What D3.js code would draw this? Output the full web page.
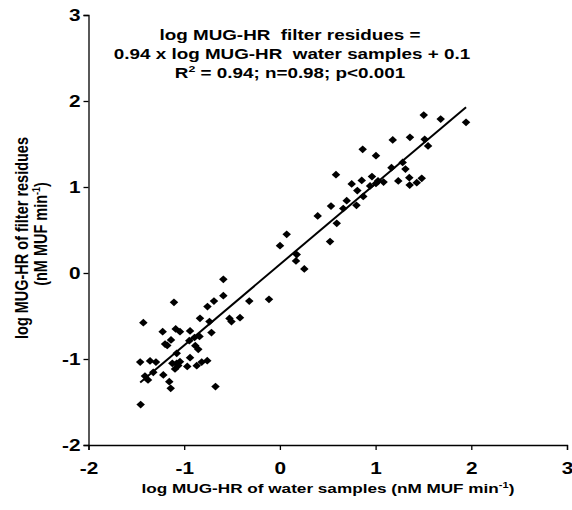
<!DOCTYPE html>
<html>
<head>
<meta charset="utf-8">
<script src="https://cdn.jsdelivr.net/npm/d3@7"></script>
<style>
  body { margin: 0; background: #fff; }
  svg { display: block; }
  text { font-family: Arial, "Liberation Sans", sans-serif; font-weight: bold; fill: #000; }
</style>
</head>
<body>
<div id="chart"></div>
<script>
// log MUG-HR of water samples (x) vs filter residues (y)
const waterLog = [
  -1.455, -1.46, -1.427, -1.41, -1.378, -1.357, -1.323, -1.295, -1.225, -1.218,
  -1.20, -1.177, -1.138, -1.156, -1.141, -1.107, -1.089, -1.044, -1.078, -1.124,
  -1.078, -1.044, -1.062, -1.096, -0.968, -0.939, -0.939, -0.947, -0.892, -0.84,
  -0.884, -0.853, -0.869, -0.817, -0.759, -0.835, -0.736, -0.757, -0.689, -0.715,
  -0.673, -0.591, -0.591, -0.527, -0.506, -0.417, -0.32, -0.114, 0.001, 0.071,
  0.176, 0.168, 0.255, 0.395, 0.524, 0.534, 0.594, 0.586, 0.662, 0.698,
  0.75, 0.809, 0.80, 0.855, 0.871, 0.865, 0.942, 0.962, 1.004, 1.025,
  1.083, 1.004, 1.166, 1.179, 1.237, 1.283, 1.312, 1.352, 1.356, 1.359,
  1.43, 1.482, 1.503, 1.513, 1.548, 1.68, 1.945
];
const filterLog = [
  -1.53, -1.035, -0.578, -1.198, -1.244, -1.023, -1.155, -1.035, -0.683, -1.186,
  -0.826, -0.843, -0.779, -1.264, -1.341, -0.341, -0.651, -0.683, -0.934, -1.05,
  -1.05, -1.031, -1.076, -1.116, -1.087, -0.985, -0.674, -0.787, -0.75, -0.738,
  -0.845, -0.887, -1.078, -1.035, -1.02, -0.527, -0.564, -0.39, -0.326, -0.692,
  -1.32, -0.264, -0.073, -0.529, -0.564, -0.52, -0.326, -0.306, 0.317, 0.45,
  0.215, 0.14, 0.047, 0.663, 0.366, 0.779, 0.578, 1.143, 0.75, 0.841,
  1.035, 0.959, 0.787, 1.076, 0.89, 1.438, 1.012, 1.122, 1.041, 1.07,
  1.058, 1.364, 1.224, 1.547, 1.07, 1.285, 1.209, 1.108, 1.023, 1.578,
  1.05, 1.101, 1.837, 1.555, 1.477, 1.79, 1.752
];
const xTicks = [-2, -1, 0, 1, 2, 3];
const yTicks = [-2, -1, 0, 1, 2, 3];
const slope = 0.94;
const intercept = 0.1;

const config = {
  width: 572,
  height: 510,
  left: 88.5,
  right: 567,
  top: 15,
  bottom: 445,
  stretch: 1.3   // the scanned figure is wider than tall
};

const points = waterLog.map((x, i) => ({ x: x, y: filterLog[i] }));

const svg = d3.select('#chart').append('svg')
  .attr('width', config.width)
  .attr('height', config.height);

const xScale = d3.scaleLinear().domain([-2, 3]).range([config.left, config.right]);
const yScale = d3.scaleLinear().domain([-2, 3]).range([config.bottom, config.top]);

// tick labels use a plain hyphen like the original
const fmt = d => String(d);

// Axes
const xAxis = svg.append('g')
  .attr('transform', `translate(0,${config.bottom})`)
  .call(d3.axisBottom(xScale).tickValues(xTicks).tickSizeOuter(0).tickSize(5).tickFormat(fmt));
const yAxis = svg.append('g')
  .attr('transform', `translate(${config.left},0)`)
  .call(d3.axisLeft(yScale).tickValues(yTicks).tickSizeOuter(0).tickSize(5).tickFormat(fmt));

[xAxis, yAxis].forEach(ax => {
  ax.select('.domain').attr('stroke', '#000').attr('stroke-width', 1.3);
  ax.selectAll('.tick line').attr('stroke', '#000').attr('stroke-width', 1.3);
  ax.selectAll('.tick text')
    .attr('font-size', 16)
    .attr('font-family', 'Arial, "Liberation Sans", sans-serif')
    .attr('font-weight', 'bold');
});
xAxis.selectAll('.tick text')
  .attr('y', 0).attr('dy', 0)
  .attr('transform', `translate(0,29) scale(${config.stretch},1)`);
yAxis.selectAll('.tick text')
  .attr('x', 0).attr('dy', '0.35em')
  .attr('transform', `translate(-8,0) scale(${config.stretch},1)`);

// Regression line from the stated equation
const xExtent = d3.extent(waterLog);
svg.append('path')
  .datum(xExtent.map(x => ({ x: x, y: slope * x + intercept })))
  .attr('d', d3.line().x(d => xScale(d.x)).y(d => yScale(d.y)))
  .attr('stroke', '#000')
  .attr('stroke-width', 2)
  .attr('fill', 'none');

// Diamond markers
const diamond = d3.symbol(d3.symbolSquare, 30);
svg.append('g').selectAll('path')
  .data(points)
  .enter()
  .append('path')
  .attr('d', diamond)
  .attr('transform', d => `translate(${xScale(d.x)},${yScale(d.y)}) scale(1.1,1) rotate(45)`)
  .attr('fill', '#000');

// Title (equation block)
function stretchedText(x, y, size) {
  return svg.append('text')
    .attr('transform', `translate(${x},${y}) scale(${config.stretch},1)`)
    .attr('text-anchor', 'middle')
    .attr('font-size', size);
}
stretchedText(290, 40, 14.5).text('log MUG-HR \u00a0filter residues =');
stretchedText(292, 59, 14.5).text('0.94 x log MUG-HR \u00a0water samples + 0.1');
const r2 = stretchedText(290, 78, 14.5);
r2.append('tspan').text('R');
r2.append('tspan').text('2').attr('font-size', 9.5).attr('dy', -6);
r2.append('tspan').text(' = 0.94; n=0.98; p<0.001').attr('dy', 6);

// X axis title
const xTitle = stretchedText(328, 493, 13.2);
xTitle.append('tspan').text('log MUG-HR of water samples (nM MUF min');
xTitle.append('tspan').text('-1').attr('font-size', 8.5).attr('dy', -5);
xTitle.append('tspan').text(')').attr('dy', 5);

// Y axis title (two lines)
svg.append('text')
  .attr('transform', `translate(28,238) scale(${config.stretch},1) rotate(-90)`)
  .attr('text-anchor', 'middle')
  .attr('font-size', 14.5)
  .text('log MUG-HR of filter residues');
const yTitle2 = svg.append('text')
  .attr('transform', `translate(46.5,234) scale(${config.stretch},1) rotate(-90)`)
  .attr('text-anchor', 'middle')
  .attr('font-size', 14.5);
yTitle2.append('tspan').text('(nM MUF min');
yTitle2.append('tspan').text('-1').attr('font-size', 9).attr('dy', -5);
yTitle2.append('tspan').text(')').attr('dy', 5);
</script>
</body>
</html>
